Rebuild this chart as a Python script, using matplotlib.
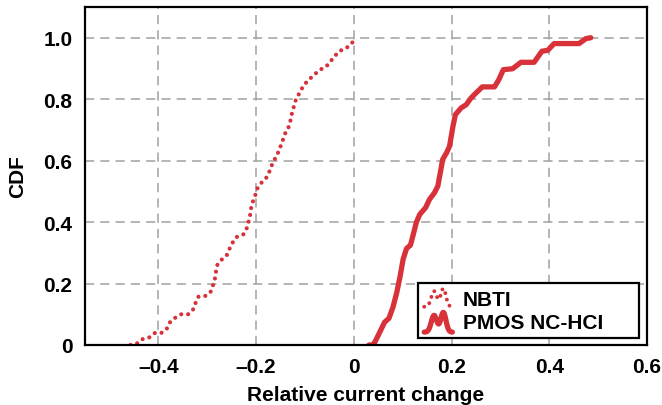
import numpy as np
import matplotlib
matplotlib.use('Agg')
import matplotlib.pyplot as plt
from matplotlib.legend_handler import HandlerBase
from matplotlib.lines import Line2D

plt.rcParams['font.family'] = ['Liberation Sans', 'DejaVu Sans']
plt.rcParams['font.weight'] = 'bold'

# NBTI: relative current change vs CDF (dotted curve)
nbti_x = [-0.457, -0.442, -0.432, -0.418, -0.407, -0.394, -0.383, -0.376, -0.365, -0.353,
          -0.339, -0.329, -0.324, -0.318, -0.303, -0.293, -0.288, -0.284, -0.282, -0.279,
          -0.270, -0.260, -0.254, -0.248, -0.239, -0.226, -0.219, -0.215, -0.212, -0.210,
          -0.206, -0.201, -0.197, -0.188, -0.178, -0.172, -0.167, -0.161, -0.154, -0.149,
          -0.144, -0.139, -0.132, -0.129, -0.126, -0.122, -0.118, -0.111, -0.104, -0.095,
          -0.090, -0.080, -0.069, -0.057, -0.048, -0.039, -0.029, -0.016, -0.005, 0.006]
nbti_cdf = [0.0, 0.006, 0.019, 0.025, 0.039, 0.039, 0.052, 0.074, 0.089, 0.100,
            0.100, 0.115, 0.136, 0.157, 0.160, 0.173, 0.195, 0.217, 0.239, 0.261,
            0.278, 0.292, 0.314, 0.333, 0.352, 0.360, 0.380, 0.403, 0.424, 0.446,
            0.469, 0.490, 0.510, 0.530, 0.546, 0.567, 0.588, 0.607, 0.629, 0.650,
            0.672, 0.694, 0.713, 0.735, 0.758, 0.779, 0.801, 0.820, 0.841, 0.859,
            0.866, 0.881, 0.896, 0.905, 0.922, 0.940, 0.957, 0.965, 0.981, 1.0]

# PMOS NC-HCI (solid curve)
hci_x = [0.031, 0.039, 0.043, 0.053, 0.063, 0.072, 0.080, 0.088, 0.095, 0.101,
         0.108, 0.116, 0.121, 0.128, 0.135, 0.147, 0.155, 0.165, 0.172, 0.177,
         0.182, 0.190, 0.196, 0.203, 0.208, 0.220, 0.230, 0.240, 0.250, 0.263,
         0.288, 0.297, 0.306, 0.325, 0.342, 0.369, 0.385, 0.397, 0.410, 0.461,
         0.475, 0.485]
hci_cdf = [0.0, 0.0, 0.009, 0.041, 0.074, 0.087, 0.122, 0.171, 0.225, 0.279,
           0.314, 0.325, 0.355, 0.399, 0.425, 0.447, 0.474, 0.495, 0.517, 0.560,
           0.604, 0.626, 0.647, 0.712, 0.750, 0.772, 0.782, 0.804, 0.820, 0.840,
           0.840, 0.864, 0.896, 0.899, 0.920, 0.920, 0.956, 0.959, 0.981, 0.981,
           0.997, 1.0]

x_ticks = [-0.4, -0.2, 0, 0.2, 0.4, 0.6]
x_labels = ['\u20130.4', '\u20130.2', '0', '0.2', '0.4', '0.6']
y_ticks = [0, 0.2, 0.4, 0.6, 0.8, 1.0]
y_labels = ['0', '0.2', '0.4', '0.6', '0.8', '1.0']

red = '#d8313a'
fs = 15


# small distribution-shaped legend icons
class ShapeHandler(HandlerBase):
    def __init__(self, dotted):
        super().__init__()
        self.dotted = dotted

    def create_artists(self, legend, orig_handle, xdescent, ydescent, width, height, fontsize, trans):
        u = np.linspace(0, 1, 40)
        bump = np.exp(-((u - 0.35) / 0.14) ** 2) * 0.85 + np.exp(-((u - 0.68) / 0.13) ** 2)
        bump = bump / bump.max()
        xs = u * width
        if self.dotted:
            ys = -height * 0.15 + bump * height * 1.25
            ln = Line2D(xs, ys, color=red, lw=2.8, linestyle=(0, (0.01, 1.7)),
                        dash_capstyle='round', transform=trans)
        else:
            ys = -height * 0.3 + bump * height * 1.35
            ln = Line2D(xs, ys, color=red, lw=3.8, solid_capstyle='round',
                        transform=trans)
        return [ln]


fig = plt.figure(figsize=(6.62, 4.06), dpi=100)
ax = fig.add_axes([0.1284, 0.1478, 0.8489, 0.8325])

for v in [-0.4, -0.2, 0, 0.2, 0.4]:
    ax.axvline(v, color='#a0a0a0', lw=1.1, linestyle=(0, (6, 4)), zorder=0)
for v in [0.2, 0.4, 0.6, 0.8, 1.0]:
    ax.axhline(v, color='#a0a0a0', lw=1.1, linestyle=(0, (6, 4)), zorder=0)

l1, = ax.plot(nbti_x, nbti_cdf, color=red, lw=3.0, linestyle=(0, (0.01, 1.65)),
              dash_capstyle='round', label='NBTI')
l2, = ax.plot(hci_x, hci_cdf, color=red, lw=3.8, solid_joinstyle='round',
              solid_capstyle='round', label='PMOS NC-HCI')

ax.set_xlim(-0.55, 0.6)
ax.set_ylim(0, 1.1)
ax.set_xticks(x_ticks)
ax.set_xticklabels(x_labels)
ax.set_yticks(y_ticks)
ax.set_yticklabels(y_labels)
ax.tick_params(axis='x', length=0, labelsize=fs, pad=9)
ax.tick_params(axis='y', length=0, labelsize=fs, pad=9)
for lab in ax.get_xticklabels() + ax.get_yticklabels():
    lab.set_fontweight('bold')
for s in ax.spines.values():
    s.set_linewidth(1.6)

ax.set_xlabel('Relative current change', fontsize=fs, fontweight='bold', labelpad=6)
ax.set_ylabel('CDF', fontsize=fs, fontweight='bold', labelpad=12)

leg = ax.legend(handles=[l1, l2], loc='lower left', mode='expand',
                bbox_to_anchor=(0.5925, 0.0207, 0.393, 0.166),
                borderaxespad=0, fancybox=False, framealpha=1, edgecolor='black', fontsize=fs,
                handlelength=1.35, handletextpad=0.5, borderpad=0.3, labelspacing=0.2,
                handler_map={l1: ShapeHandler(True), l2: ShapeHandler(False)})
leg.get_frame().set_linewidth(1.6)
for t in leg.get_texts():
    t.set_fontweight('bold')

fig.savefig('out.png', dpi=100)
